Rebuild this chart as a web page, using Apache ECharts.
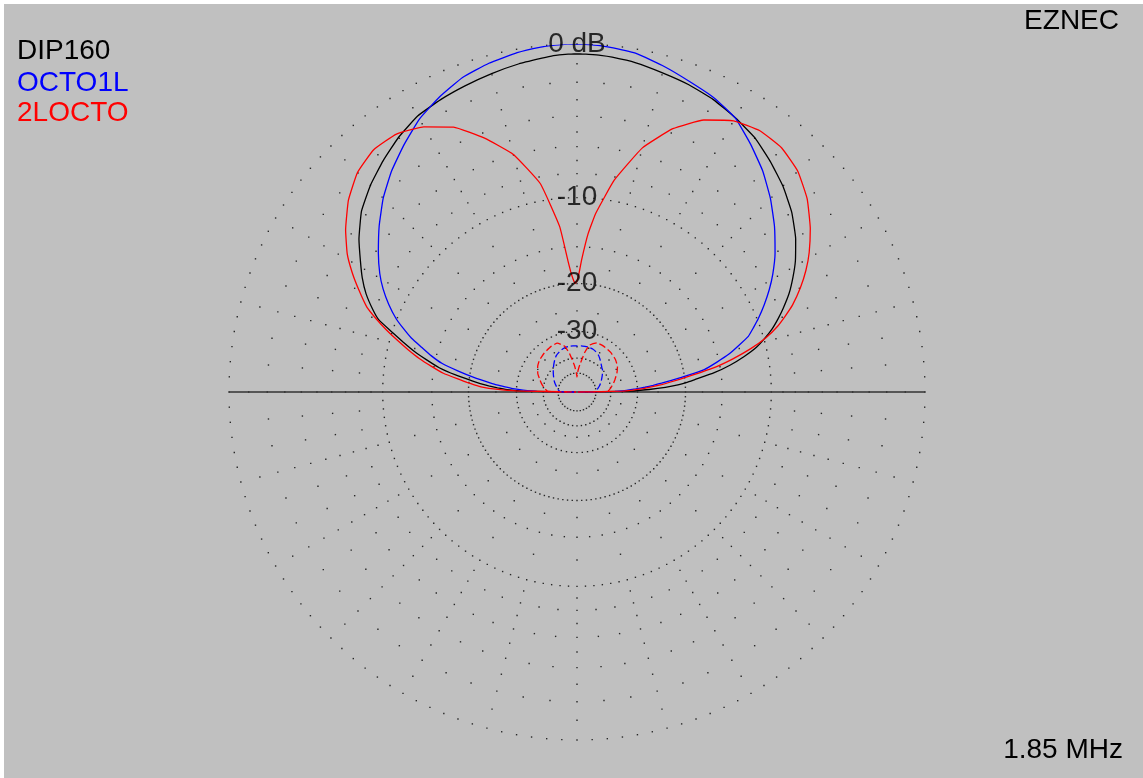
<!DOCTYPE html>
<html>
<head>
<meta charset="utf-8">
<title>EZNEC elevation pattern</title>
<script src="https://cdn.jsdelivr.net/npm/echarts@6/dist/echarts.min.js"></script>
<style>
  html, body { margin: 0; padding: 0; background: #fff; }
  #elevation { position: absolute; left: 4px; top: 4px; width: 1139px; height: 774px; }
</style>
</head>
<body>
<div id="elevation"></div>
<script>
// elevation angle in degrees: 0 = right horizon, 90 = zenith, 180 = left horizon
var angles = [0, 1, 2, 3, 4, 5, 6, 8, 10, 12, 14, 16, 18, 20, 22, 25, 28, 31, 35,
  40, 45, 50, 55, 60, 65, 70, 75, 80, 84, 86, 88, 89, 90, 91, 92, 93, 94, 96,
  100, 105, 110, 115, 120, 125, 130, 135, 140, 145, 149, 152, 155, 158, 160,
  162, 164, 166, 168, 170, 172, 174, 175, 176, 177, 178, 179, 180];

// gain in dB (0 dB = max of the plot)
var dip160 = [-100, -32, -27, -23.5, -21.2, -19.7, -18.5, -15.8, -13.8, -12.2, -10.85, -9.9, -9.05, -8.35, -7.7,
  -6.8, -6.05, -5.35, -4.55, -3.72, -3.06, -2.5, -1.97, -1.62, -1.3, -1.07, -0.89, -0.68,
  -0.57, -0.53, -0.51, -0.5, -0.5, -0.5, -0.51, -0.52, -0.54, -0.62,
  -0.74, -0.93, -1.12, -1.3, -1.51, -1.93, -2.45, -3.0, -3.65, -4.6,
  -5.5, -6.15, -6.9, -7.85, -8.6, -9.95, -11.25, -12.55, -14.07, -15.64,
  -17.9, -20.6, -21.9, -23.5, -25.3, -27.5, -32, -100];

var octo1l = [-100, -38, -33.5, -30.5, -28, -26, -24.2, -20.5, -17.0, -15.3, -13.7, -12.5, -11.3, -10.6, -9.9,
  -8.95, -8.05, -7.23, -6.25, -5.15, -4.13, -3.2, -2.4, -1.63, -1.2, -0.9, -0.55, -0.22,
  -0.1, -0.05, -0.02, 0, 0, 0, -0.01, -0.02, -0.03, -0.06,
  -0.17, -0.38, -0.67, -1.15, -1.7, -2.45, -3.22, -4.1, -5.12, -6.2,
  -7.1, -7.9, -8.85, -9.95, -10.9, -11.9, -13.2, -14.4, -15.85, -18.2,
  -20.8, -23.7, -25.1, -27, -29, -32, -37, -100];

var locto2 = [-100, -35, -31.5, -28.5, -26.2, -24.2, -22.6, -19.25, -15.8, -13.4, -11.4, -9.8, -8.65, -7.76, -6.92,
  -5.92, -5.05, -4.3, -3.44, -2.52, -1.86, -1.52, -1.5, -1.81, -2.54, -3.72, -5.49, -8.24,
  -11.34, -13.5, -16.6, -18.4, -19.6, -20, -19.3, -18.2, -16.6, -12.65,
  -8.53, -5.96, -4.35, -3.0, -2.2, -1.72, -1.64, -1.96, -2.64, -3.58,
  -4.48, -5.36, -6.34, -7.36, -8.38, -9.5, -10.7, -11.92, -13.2, -14.7,
  -16.26, -18.6, -19.7, -20.9, -22.3, -25, -30, -100];

// weak components (dashed)
var octo1lLowAngles = [0, 1, 5, 10, 15, 20, 25, 30, 35, 40, 45, 50, 55, 60, 65, 70, 75, 80, 85, 90,
  95, 100, 105, 110, 115, 120, 125, 130, 135, 140, 145, 150, 155, 160, 165, 170, 175, 179, 180];
var octo1lLow = [-100, -51, -49.5, -48, -46.5, -45.2, -44, -42.8, -41.5, -40.2, -39.4, -38.3, -37.1, -36, -35.3, -34.8, -34.6, -34.6, -34.6, -34.7,
  -34.6, -34.6, -34.7, -35.1, -35.7, -36.4, -37.6, -38.9, -40.2, -41.5, -42.8, -44, -45.2, -46.5, -48, -49.2, -50.5, -52, -100];

var locto2LowAngles = [0, 1, 3, 6, 9, 13, 18, 25, 32, 40, 50, 60, 68, 75, 79, 81, 84, 86, 88, 89, 90,
  91, 92, 94, 96, 99, 101, 105, 112, 120, 130, 140, 147, 155, 162, 167, 171, 174, 177, 179, 180];
var locto2Low = [-100, -42.5, -41, -40.2, -39.4, -38.3, -37.2, -35.5, -34.1, -33.2, -32.6, -32.3, -32.3, -33.8, -37, -40, -43.5, -46, -49, -51, -54,
  -52, -50, -46.5, -43.5, -40, -37.5, -34.2, -32.4, -32.5, -33, -33.6, -34.4, -35.8, -37.6, -38.8, -39.9, -40.8, -41.8, -43, -100];

var ringLabels = ['0 dB', '-10', '-20', '-30'];
var ringLabelDb = [0, -10, -20, -30];

// ARRL log scale: radius shrinks by 0.89 every 2 dB
function arrl(db) {
  return Math.pow(0.89, -db / 2);
}

function toPolar(angs, dbs) {
  return dbs.map(function (db, i) { return [arrl(db), angs[i]]; });
}

// dotted grid rings: [dB, dot step in degrees]
var rings = [[0, 2.5], [-10, 2.5], [-20, 2.5], [-30, 5], [-40, 7.5], [-50, 10],
  [-2, 5], [-4, 5], [-6, 5], [-8, 5], [-15, 5],
  [-1, 15], [-3, 15], [-5, 15], [-7, 15], [-9, 15], [-12.5, 15], [-17.5, 15], [-25, 15], [-35, 15]];
var gridDots = [];
rings.forEach(function (rg) {
  for (var a = 0; a < 360; a += rg[1]) gridDots.push([arrl(rg[0]), a]);
});

var font = '"Liberation Sans", Arial, sans-serif';
var myChart = echarts.init(document.getElementById('elevation'));

function pattern(name, color, angs, dbs, dashed) {
  return {
    name: name, type: 'line', coordinateSystem: 'polar', symbol: 'none', z: 3, smooth: 0.12,
    lineStyle: { color: color, width: 1.3, type: dashed ? [7, 3] : 'solid' },
    data: toPolar(angs, dbs)
  };
}

var option = {
  backgroundColor: '#c0c0c0',
  animation: false,
  polar: { center: [573, 388], radius: 348 },
  angleAxis: {
    type: 'value', min: 0, max: 360, startAngle: 0, clockwise: false,
    axisLine: { show: false }, axisTick: { show: false }, axisLabel: { show: false }, splitLine: { show: false }
  },
  radiusAxis: {
    type: 'value', min: 0, max: 1,
    axisLine: { show: false }, axisTick: { show: false }, axisLabel: { show: false }, splitLine: { show: false }
  },
  series: [
    {
      type: 'scatter', coordinateSystem: 'polar', silent: true, z: 1,
      symbol: 'rect', symbolSize: 1.4,
      itemStyle: { color: '#000' },
      data: gridDots
    },
    {
      type: 'line', coordinateSystem: 'polar', silent: true, z: 2,
      symbol: 'none',
      lineStyle: { color: '#333', width: 1.6 },
      data: [[1, 0], [0, 0], [1, 180]]
    },
    pattern('DIP160', '#000', angles, dip160),
    pattern('OCTO1L', '#0000ff', angles, octo1l),
    pattern('2LOCTO', '#ff0000', angles, locto2),
    pattern('OCTO1L', '#0000ff', octo1lLowAngles, octo1lLow, true),
    pattern('2LOCTO', '#ff0000', locto2LowAngles, locto2Low, true),
    {
      type: 'scatter', coordinateSystem: 'polar', silent: true, z: 5,
      symbolSize: 0,
      label: {
        show: true, position: 'inside', formatter: '{b}',
        fontSize: 28, fontFamily: font, color: '#000'
      },
      data: ringLabelDb.map(function (db, i) {
        return { name: ringLabels[i], value: [arrl(db), 90] };
      })
    }
  ],
  graphic: [
    { type: 'text', x: 13, y: 47, style: { text: 'DIP160', fill: '#000', font: '28px ' + font, align: 'left', verticalAlign: 'middle' } },
    { type: 'text', x: 13, y: 79, style: { text: 'OCTO1L', fill: '#0000ff', font: '28px ' + font, align: 'left', verticalAlign: 'middle' } },
    { type: 'text', x: 13, y: 109.5, style: { text: '2LOCTO', fill: '#ff0000', font: '28px ' + font, align: 'left', verticalAlign: 'middle' } },
    { type: 'text', x: 1115, y: 17, style: { text: 'EZNEC', fill: '#000', font: '28px ' + font, align: 'right', verticalAlign: 'middle' } },
    { type: 'text', x: 1119, y: 746, style: { text: '1.85 MHz', fill: '#000', font: '28px ' + font, align: 'right', verticalAlign: 'middle' } }
  ]
};
myChart.setOption(option);
window.onresize = function () {
  myChart.resize();
};
</script>
</body>
</html>
